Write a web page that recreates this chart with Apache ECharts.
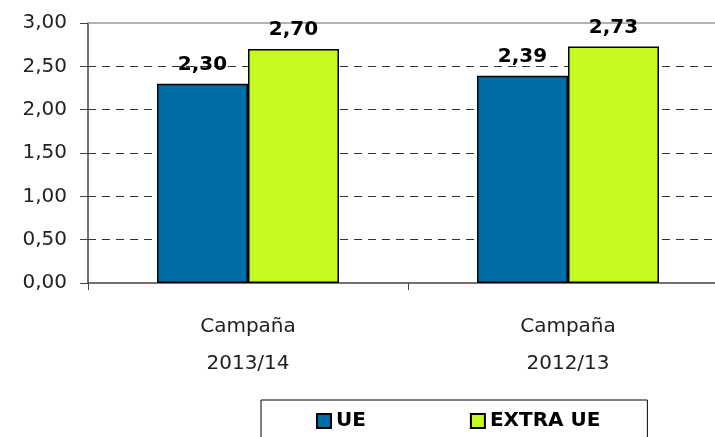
<!DOCTYPE html>
<html>
<head>
<meta charset="utf-8">
<script src="https://cdn.jsdelivr.net/npm/echarts@6/dist/echarts.min.js"></script>
<style>
  html, body { margin: 0; padding: 0; background: #fff; }
  #chart { width: 715px; height: 437px; }
</style>
</head>
<body>
<div id="chart"></div>
<script>
// datos
const categories = ["Campaña\n2013/14", "Campaña\n2012/13"];
const ueValues = [2.30, 2.39];
const extraUeValues = [2.70, 2.73];
const seriesNames = ["UE", "EXTRA UE"];

const fmt = (v) => v.toFixed(2).replace(".", ",");
const font = "DejaVu Sans";

const barLabel = {
  show: true,
  position: "top",
  distance: 9,
  color: "#000",
  fontFamily: font,
  fontWeight: "bold",
  fontSize: 20,
  formatter: (p) => fmt(p.value),
};

const chart = echarts.init(document.getElementById("chart"));
chart.setOption({
  animation: false,
  textStyle: { fontFamily: font },
  grid: { left: 88, top: 23, width: 640, height: 260, outerBoundsMode: "none", containLabel: false },
  legend: {
    left: 261,
    top: 400,
    padding: [11, 47, 30, 55],
    itemGap: 104,
    itemWidth: 14,
    itemHeight: 14,
    borderColor: "#000",
    borderWidth: 1,
    icon: "rect",
    textStyle: { fontFamily: font, fontWeight: "bold", fontSize: 20, color: "#000" },
    data: seriesNames,
  },
  xAxis: [
    {
      type: "category",
      data: categories,
      axisLine: { lineStyle: { color: "#444", width: 1.5 } },
      axisTick: { show: true, length: 7, lineStyle: { color: "#444" } },
      axisLabel: {
        color: "#222",
        fontFamily: font,
        fontSize: 20,
        lineHeight: 37,
        margin: 25,
      },
    },
    {
      type: "category",
      position: "top",
      data: categories,
      axisLine: { lineStyle: { color: "#999", width: 1.5 } },
      axisTick: { show: false },
      axisLabel: { show: false },
    },
  ],
  yAxis: {
    type: "value",
    min: 0,
    max: 3,
    interval: 0.5,
    axisLine: { show: true, lineStyle: { color: "#444", width: 1.5 } },
    axisTick: { show: true, length: 8, lineStyle: { color: "#444" } },
    axisLabel: {
      color: "#222",
      fontFamily: font,
      fontSize: 20,
      margin: 21,
      formatter: fmt,
    },
    splitLine: {
      show: true,
      lineStyle: {
        color: ["transparent", "#333", "#333", "#333", "#333", "#333", "transparent"],
        type: [8, 6],
        width: 1,
      },
    },
  },
  series: [
    {
      name: seriesNames[0],
      type: "bar",
      data: ueValues,
      barWidth: 91,
      barGap: "0%",
      itemStyle: { color: "#006EA6", borderColor: "#000", borderWidth: 1.5 },
      label: barLabel,
    },
    {
      name: seriesNames[1],
      type: "bar",
      data: extraUeValues,
      barWidth: 91,
      barGap: "0%",
      itemStyle: { color: "#C6F920", borderColor: "#000", borderWidth: 1.5 },
      label: barLabel,
    },
  ],
});
</script>
</body>
</html>
